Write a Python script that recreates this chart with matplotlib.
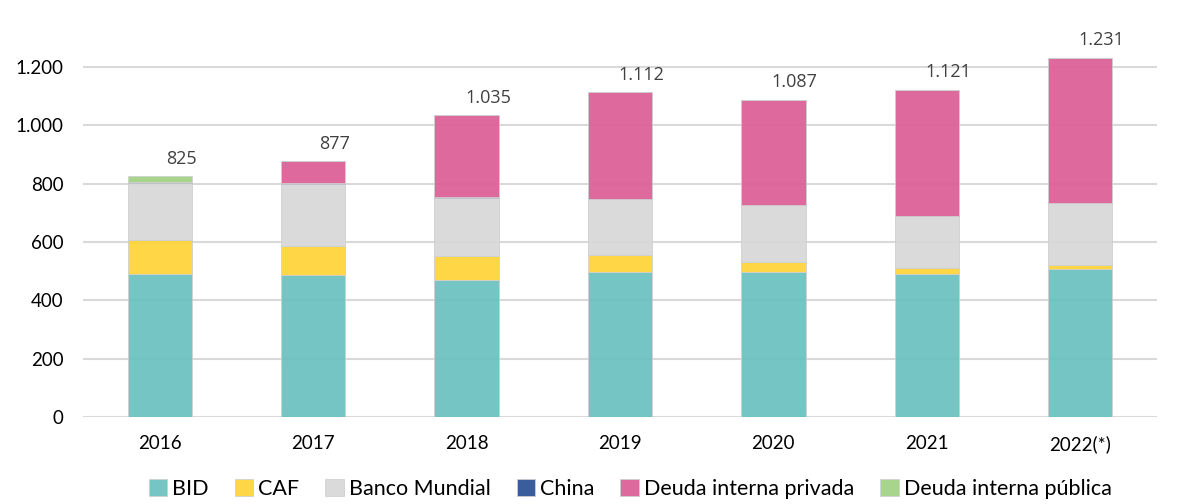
import matplotlib.pyplot as plt
import numpy as np

plt.rcParams['font.family'] = ['Lato', 'DejaVu Sans']

years = ['2016', '2017', '2018', '2019', '2020', '2021', '2022(*)']
bid = [490, 487, 470, 497, 497, 490, 508]
caf = [118, 100, 82, 60, 35, 20, 15]
banco_mundial = [195, 210, 198, 190, 193, 178, 210]
china = [3, 4, 3, 1, 0, 0, 0]
deuda_privada = [0, 76, 282, 364, 362, 433, 498]
deuda_publica = [19, 0, 0, 0, 0, 0, 0]
totals = ['825', '877', '1.035', '1.112', '1.087', '1.121', '1.231']

series = [
    ('BID', bid, '#6cc2c0'),
    ('CAF', caf, '#ffd43b'),
    ('Banco Mundial', banco_mundial, '#d8d8d8'),
    ('China', china, '#2f5597'),
    ('Deuda interna privada', deuda_privada, '#dd6197'),
    ('Deuda interna pública', deuda_publica, '#a3d386'),
]

fig = plt.figure(figsize=(11.78, 5.04), dpi=100)
ax = fig.add_axes([0.0706, 0.172, 0.9114, 0.80])

x = np.arange(len(years))
bottom = np.zeros(len(years))
for name, vals, col in series:
    ax.bar(x, vals, 0.42, bottom=bottom, color=col, alpha=0.95,
           edgecolor='#cfcfcf', linewidth=0.6, label=name, zorder=2)
    bottom += np.array(vals)

for xi, top, lab in zip(x, bottom, totals):
    ax.annotate(lab, (xi + 0.14, top), xytext=(0, 6), textcoords='offset points',
                ha='center', va='bottom', fontsize=13, color='#404040',
                family=['Open Sans', 'DejaVu Sans'])

ax.set_xlim(-0.5, len(years) - 0.5)
ax.set_ylim(0, 1380)
ax.set_yticks(range(0, 1201, 200))
ax.set_yticklabels(['0', '200', '400', '600', '800', '1.000', '1.200'])
ax.set_xticks(x)
ax.set_xticklabels(years)
ax.tick_params(length=0, labelsize=13.5, colors='black')
ax.tick_params(axis='x', pad=13)
ax.tick_params(axis='y', pad=14)
ax.grid(axis='y', color='#d9d9d9', linewidth=1.5, zorder=1)
ax.set_axisbelow(True)
for s in ax.spines.values():
    s.set_visible(False)

fig.legend(loc='lower center', bbox_to_anchor=(0.535, -0.028), ncol=6, frameon=False,
           fontsize=15.5, handlelength=0.85, handleheight=0.85, handletextpad=0.25,
           columnspacing=1.2)

fig.savefig('out.png', dpi=100)
